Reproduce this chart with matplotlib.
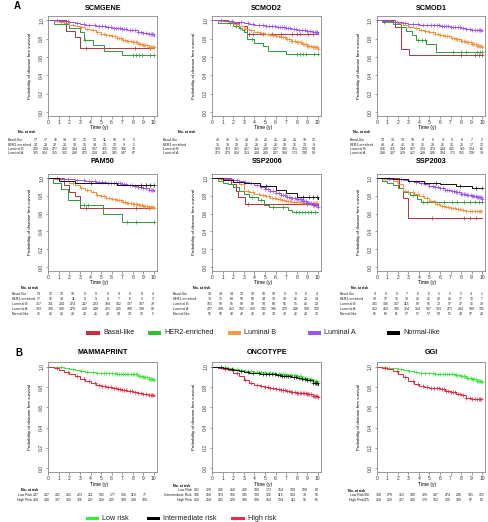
import numpy as np
import matplotlib
matplotlib.use("Agg")
import matplotlib.pyplot as plt
from matplotlib.patches import Rectangle

plt.rcParams['font.family'] = ['Liberation Sans', 'DejaVu Sans']

W, H = 489, 522

# colours
C_BASAL = '#b3323f'
C_HER2 = '#2f9a3a'
C_LUMB = '#f0903c'
C_LUMA = '#9a4ef2'
C_NORM = '#111111'
C_LOW = '#3ee23e'
C_INT = '#111111'
C_HIGH = '#e3263f'
LEG_A = [('Basal-like', '#cf2a40'), ('HER2-enriched', '#2fc02f'), ('Luminal B', '#f39a48'),
         ('Luminal A', '#9b55f0'), ('Normal-like', '#000000')]
LEG_B = [('Low risk', '#33ee33'), ('Intermediate risk', '#000000'), ('High risk', '#ee2a44')]

# ---- data -------------------------------------------------------------
YEARS = [0, 0.5, 1, 1.5, 2, 2.5, 3, 3.5, 4, 4.5, 5, 5.5, 6, 6.5, 7, 7.5, 8, 8.5, 9, 9.5, 10]
TICKS = [0, 1, 2, 3, 4, 5, 6, 7, 8, 9, 10]

CENS_D1 = [1.2, 2.3, 3.1, 3.7, 4.2, 4.6, 5.0, 5.3, 5.5, 5.8, 6.0, 6.3, 6.5, 6.7, 6.9, 7.1,
           7.3, 7.5, 7.6, 7.8, 8.0, 8.1, 8.3, 8.4, 8.6, 8.7, 8.9, 9.0, 9.1, 9.2, 9.4, 9.5,
           9.6, 9.7, 9.8, 9.9, 10.0]
CENS_D2 = [0.8, 1.9, 2.7, 3.4, 3.9, 4.4, 4.8, 5.1, 5.4, 5.7, 5.9, 6.2, 6.4, 6.6, 6.8, 7.0,
           7.2, 7.4, 7.7, 7.9, 8.2, 8.5, 8.8, 9.0, 9.3, 9.5, 9.7, 9.8, 9.9]

# SCMGENE
scmgene_basal = ([0, 1.7, 2.5, 3.0, 10.0], [1, 0.88, 0.82, 0.70, 0.70], [3.6, 8.2, 9.6])
scmgene_her2 = ([0, 0.5, 2.0, 3.0, 3.4, 4.2, 5.3, 7.0, 10.0],
                [1, 0.958, 0.917, 0.875, 0.79, 0.73, 0.667, 0.625, 0.625],
                [3.5, 8.0, 8.3, 8.6, 8.9, 9.6, 10.0])
scmgene_lumb = (YEARS, [1, 0.99, 0.98, 0.97, 0.955, 0.94, 0.925, 0.91, 0.89, 0.87, 0.855,
                        0.845, 0.83, 0.81, 0.79, 0.775, 0.76, 0.745, 0.73, 0.715, 0.71], CENS_D1)
scmgene_luma = (YEARS, [1, 1, 0.995, 0.99, 0.985, 0.975, 0.965, 0.955, 0.945, 0.94, 0.935,
                        0.925, 0.92, 0.915, 0.91, 0.9, 0.89, 0.875, 0.865, 0.85, 0.835], CENS_D2)

# SCMOD2
scmod2_basal = ([0, 1.5, 2.5, 3.3, 10.0], [1, 0.97, 0.94, 0.855, 0.855],
                [3.5, 3.9, 4.8, 5.7, 6.5, 7.6, 8.0, 8.3, 9.1, 9.5])
scmod2_her2 = ([0, 0.5, 2.0, 2.5, 2.8, 3.0, 3.3, 4.0, 4.8, 5.3, 7.0, 10.0],
               [1, 0.97, 0.94, 0.92, 0.89, 0.87, 0.80, 0.75, 0.72, 0.67, 0.63, 0.63],
               [1.7, 2.2, 2.6, 3.8, 8.0, 8.3, 8.6, 8.9, 9.6, 10.0])
scmod2_lumb = (YEARS, [1, 0.995, 0.99, 0.98, 0.965, 0.94, 0.91, 0.89, 0.87, 0.86, 0.855,
                       0.845, 0.835, 0.82, 0.80, 0.78, 0.76, 0.745, 0.725, 0.705, 0.69], CENS_D1)
scmod2_luma = (YEARS, [1, 1, 0.995, 0.99, 0.985, 0.978, 0.97, 0.96, 0.95, 0.945, 0.94,
                       0.935, 0.93, 0.925, 0.92, 0.91, 0.90, 0.89, 0.88, 0.87, 0.855], CENS_D2)

# SCMOD1
scmod1_basal = ([0, 1.7, 2.35, 3.05, 10.0], [1, 0.93, 0.69, 0.625, 0.625], [8.0, 9.3, 9.7, 10.0])
scmod1_her2 = ([0, 0.5, 1.5, 2.3, 2.8, 3.3, 3.75, 4.7, 5.6, 10.0],
               [1, 0.98, 0.96, 0.93, 0.88, 0.84, 0.79, 0.745, 0.655, 0.655],
               [0.7, 3.9, 4.3, 4.6, 7.2, 8.0, 8.5, 9.5, 9.8, 10.0])
scmod1_lumb = (YEARS, [1, 0.995, 0.99, 0.98, 0.97, 0.95, 0.93, 0.915, 0.90, 0.885, 0.87,
                       0.855, 0.84, 0.825, 0.81, 0.795, 0.78, 0.76, 0.74, 0.72, 0.705], CENS_D1)
scmod1_luma = (YEARS, [1, 0.995, 0.99, 0.985, 0.98, 0.97, 0.965, 0.96, 0.955, 0.952, 0.95,
                       0.945, 0.94, 0.935, 0.93, 0.925, 0.92, 0.91, 0.90, 0.89, 0.88], CENS_D2)

# PAM50
pam50_basal = ([0, 1.5, 2.0, 2.5, 3.0, 10.0], [1, 0.923, 0.846, 0.80, 0.66, 0.66], [3.6, 8.3, 9.5])
pam50_her2 = ([0, 0.4, 1.2, 1.9, 3.0, 5.2, 7.0, 10.0],
              [1, 0.94, 0.88, 0.75, 0.695, 0.60, 0.51, 0.51], [3.4, 3.8, 7.5, 8.3, 10.0])
pam50_lumb = (YEARS, [1, 0.995, 0.985, 0.97, 0.95, 0.92, 0.89, 0.865, 0.84, 0.815, 0.795,
                      0.78, 0.765, 0.75, 0.735, 0.72, 0.71, 0.70, 0.685, 0.67, 0.66], CENS_D1)
pam50_luma = (YEARS, [1, 1, 0.995, 0.99, 0.985, 0.98, 0.975, 0.97, 0.965, 0.96, 0.955,
                      0.95, 0.945, 0.94, 0.935, 0.925, 0.915, 0.90, 0.885, 0.87, 0.855], CENS_D2)
pam50_norm = ([0, 1.0, 2.5, 6.5, 10.0], [1, 0.97, 0.94, 0.92, 0.92], [4.0, 8.8, 9.3, 9.6, 10.0])

# SSP2006
ssp06_basal = ([0, 1.8, 2.2, 2.4, 3.1, 10.0], [1, 0.929, 0.857, 0.786, 0.714, 0.714], [3.4, 9.0, 9.6])
ssp06_her2 = ([0, 0.5, 1.0, 1.5, 2.0, 2.5, 3.0, 3.5, 4.3, 4.9, 5.4, 7.2, 7.6, 10.0],
              [1, 0.97, 0.95, 0.93, 0.90, 0.86, 0.82, 0.79, 0.75, 0.70, 0.67, 0.645, 0.62, 0.62],
              [3.8, 4.6, 5.8, 6.7, 7.9, 8.2, 8.5, 8.8, 9.1, 9.4, 9.7])
ssp06_lumb = (YEARS, [1, 0.995, 0.985, 0.975, 0.955, 0.93, 0.86, 0.84, 0.825, 0.815, 0.80,
                      0.78, 0.765, 0.75, 0.74, 0.735, 0.73, 0.725, 0.725, 0.72, 0.72], CENS_D2)
ssp06_luma = (YEARS, [1, 1, 0.995, 0.99, 0.98, 0.97, 0.955, 0.94, 0.92, 0.90, 0.88,
                      0.85, 0.83, 0.81, 0.79, 0.775, 0.76, 0.74, 0.72, 0.70, 0.68], CENS_D1)
ssp06_norm = ([0, 1.0, 2.0, 3.0, 4.5, 6.0, 7.0, 8.0, 10.0],
              [1, 0.98, 0.96, 0.94, 0.91, 0.87, 0.83, 0.79, 0.77], [5.1, 8.6, 9.2, 9.5, 9.9])

# SSP2003
ssp03_basal = ([0, 2.1, 2.5, 3.0, 10.0], [1, 0.889, 0.778, 0.556, 0.556], [5.2, 8.3, 8.8, 9.4])
ssp03_her2 = ([0, 0.5, 1.0, 1.5, 2.0, 2.5, 3.2, 3.8, 4.2, 10.0],
              [1, 0.97, 0.95, 0.92, 0.89, 0.845, 0.81, 0.77, 0.73, 0.73],
              [3.0, 3.4, 4.4, 4.8, 5.5, 6.4, 7.1, 7.6, 8.3, 8.8, 9.3, 9.7, 10.0])
ssp03_lumb = (YEARS, [1, 0.995, 0.985, 0.965, 0.93, 0.86, 0.84, 0.82, 0.80, 0.78, 0.74,
                      0.71, 0.69, 0.675, 0.66, 0.65, 0.64, 0.63, 0.63, 0.63, 0.63], CENS_D2)
ssp03_luma = (YEARS, [1, 1, 0.995, 0.99, 0.985, 0.975, 0.965, 0.955, 0.945, 0.93, 0.915,
                      0.90, 0.885, 0.87, 0.855, 0.84, 0.825, 0.81, 0.80, 0.785, 0.77], CENS_D1)
ssp03_norm = ([0, 1.5, 3.0, 4.5, 6.0, 7.5, 9.0, 10.0],
              [1, 0.985, 0.97, 0.95, 0.93, 0.91, 0.89, 0.89], [5.6, 7.9, 9.4, 10.0])

# MAMMAPRINT
mamma_low = (YEARS, [1, 1, 0.995, 0.99, 0.98, 0.97, 0.96, 0.95, 0.945, 0.942, 0.94,
                     0.938, 0.935, 0.932, 0.93, 0.928, 0.925, 0.91, 0.90, 0.885, 0.87], CENS_D1)
mamma_high = (YEARS, [1, 0.99, 0.97, 0.95, 0.93, 0.905, 0.88, 0.86, 0.84, 0.825, 0.81,
                      0.80, 0.79, 0.78, 0.77, 0.762, 0.755, 0.745, 0.73, 0.72, 0.71], CENS_D2)
# ONCOTYPE
onco_low = (YEARS, [1, 1, 0.995, 0.99, 0.98, 0.97, 0.96, 0.955, 0.95, 0.945, 0.94,
                    0.935, 0.93, 0.925, 0.92, 0.915, 0.91, 0.895, 0.88, 0.86, 0.84], CENS_D1)
onco_int = (YEARS, [1, 0.995, 0.99, 0.98, 0.97, 0.96, 0.95, 0.94, 0.935, 0.932, 0.93,
                    0.925, 0.92, 0.912, 0.905, 0.898, 0.89, 0.88, 0.87, 0.845, 0.82], CENS_D2)
onco_high = (YEARS, [1, 0.99, 0.98, 0.965, 0.94, 0.905, 0.87, 0.845, 0.825, 0.81, 0.80,
                     0.79, 0.78, 0.77, 0.76, 0.752, 0.745, 0.738, 0.73, 0.715, 0.70], CENS_D1)
# GGI
ggi_low = (YEARS, [1, 0.998, 0.99, 0.985, 0.975, 0.965, 0.955, 0.945, 0.94, 0.937, 0.935,
                   0.932, 0.93, 0.928, 0.925, 0.918, 0.91, 0.895, 0.88, 0.865, 0.85], CENS_D1)
ggi_high = (YEARS, [1, 0.99, 0.98, 0.955, 0.93, 0.90, 0.86, 0.83, 0.81, 0.80, 0.795,
                    0.79, 0.78, 0.765, 0.75, 0.735, 0.72, 0.695, 0.685, 0.68, 0.68], CENS_D2)

# numbers at risk
SUB4 = ['Basal-like', 'HER2-enriched', 'Luminal B', 'Luminal A']
SUB5 = SUB4 + ['Normal-like']
RISK2 = ['Low Risk', 'High Risk']
RISK3 = ['Low Risk', 'Intermediate Risk', 'High Risk']

scmgene_n = [[17, 17, 16, 14, 12, 12, 12, 11, 10, 8, 5],
             [24, 23, 22, 20, 18, 15, 14, 13, 12, 9, 5],
             [299, 294, 277, 256, 234, 211, 187, 165, 135, 106, 76],
             [325, 324, 315, 302, 288, 272, 258, 215, 185, 147, 87]]
scmod2_n = [[32, 32, 31, 28, 25, 25, 25, 23, 21, 19, 12],
            [31, 30, 29, 26, 23, 22, 20, 18, 16, 13, 8],
            [329, 323, 307, 287, 264, 238, 207, 182, 151, 120, 84],
            [273, 273, 264, 253, 244, 230, 207, 184, 173, 130, 90]]
scmod1_n = [[13, 13, 13, 10, 9, 9, 9, 9, 8, 7, 2],
            [48, 46, 45, 38, 36, 29, 26, 25, 21, 17, 12],
            [366, 361, 344, 327, 303, 274, 234, 205, 161, 124, 86],
            [238, 237, 229, 217, 208, 200, 184, 171, 155, 128, 79]]
pam50_n = [[13, 12, 13, 10, 9, 9, 9, 9, 9, 8, 4],
           [17, 16, 14, 11, 9, 9, 8, 7, 6, 5, 3],
           [317, 311, 294, 274, 247, 223, 194, 162, 137, 107, 79],
           [333, 330, 306, 279, 260, 248, 221, 205, 180, 138, 90],
           [36, 26, 26, 23, 20, 21, 20, 18, 13, 12, 5]]
ssp06_n = [[14, 14, 14, 12, 10, 10, 10, 9, 9, 6, 4],
           [73, 71, 64, 58, 50, 44, 38, 33, 26, 20, 14],
           [101, 99, 95, 89, 82, 74, 64, 56, 51, 46, 29],
           [427, 420, 413, 392, 369, 342, 306, 279, 236, 180, 135],
           [55, 50, 48, 42, 41, 40, 34, 32, 26, 23, 12]]
ssp03_n = [[9, 9, 9, 7, 6, 6, 5, 5, 5, 4, 1],
           [38, 37, 35, 30, 26, 25, 22, 21, 17, 12, 7],
           [141, 136, 127, 115, 99, 85, 72, 57, 47, 36, 32],
           [412, 410, 399, 384, 364, 337, 303, 271, 234, 180, 135],
           [65, 65, 61, 57, 57, 57, 53, 51, 44, 37, 23]]
mamma_n = [[247, 247, 241, 231, 223, 211, 193, 177, 156, 118, 77],
           [418, 408, 387, 359, 326, 297, 256, 225, 189, 149, 100]]
onco_n = [[231, 229, 226, 218, 206, 189, 173, 154, 130, 100, 63],
          [166, 168, 163, 156, 145, 139, 126, 115, 104, 79, 55],
          [260, 258, 241, 220, 196, 180, 154, 134, 111, 90, 65]]
ggi_n = [[390, 388, 379, 363, 349, 329, 297, 274, 236, 181, 125],
         [275, 268, 250, 227, 200, 178, 152, 129, 109, 87, 63]]

# ---- drawing ----------------------------------------------------------
fig = plt.figure(figsize=(W / 100, H / 100), dpi=100)
PX_YR = 10.55
XMAX = 10.3


def fx(px):
    return px / W


def fy(py):
    return 1 - py / H


def make_panel(x0, top, bottom, title, title_y, curves):
    ax = fig.add_axes([fx(x0), fy(bottom), XMAX * PX_YR / W, (bottom - top) / H])
    for (t, s, cens), col in curves:
        t = np.asarray(t, float)
        s = np.asarray(s, float)
        ax.step(t, s, where='post', color=col, lw=0.7)
        c = np.asarray(cens, float)
        idx = np.searchsorted(t, c, side='right') - 1
        ax.plot(c, s[idx], ls='none', marker='+', ms=2.5, mew=0.5, color=col)
    ax.set_xlim(0, XMAX)
    ax.set_ylim(-0.04, 1.045)
    ax.set_xticks(TICKS)
    ax.set_yticks([0, 0.2, 0.4, 0.6, 0.8, 1.0])
    ax.set_yticklabels(['0.0', '0.2', '0.4', '0.6', '0.8', '1.0'], rotation=90, va='center')
    ax.tick_params(labelsize=3.6, length=1.8, width=0.4, pad=1.2, color='#555555',
                   labelcolor='#333333')
    for sp in ax.spines.values():
        sp.set_color('#888888')
        sp.set_linewidth(0.6)
    cx = x0 + XMAX * PX_YR / 2
    fig.text(fx(cx), fy(title_y), title, ha='center', va='center', fontsize=5.2,
             fontweight='bold')
    fig.text(fx(cx - 4), fy(bottom + 12), 'Time (y)', ha='center', va='center', fontsize=3.6)
    fig.text(fx(x0 - 18), fy((top + bottom) / 2), 'Probability of disease free survival',
             rotation=90, ha='center', va='center', fontsize=3.2)
    return ax


def risk_table(head_x, head_y, lab_x, lab_ha, num_x0, num_x1, row_ys, labels, counts):
    fs = 2.5
    fig.text(fx(head_x), fy(head_y), 'No. at risk', ha='center', va='center', fontsize=fs,
             fontweight='bold')
    xs = np.linspace(num_x0, num_x1, len(counts[0]))
    for y, lab, row in zip(row_ys, labels, counts):
        fig.text(fx(lab_x), fy(y), lab, ha=lab_ha, va='center', fontsize=fs, color='#222222')
        for x, n in zip(xs, row):
            fig.text(fx(x), fy(y), str(n), ha='center', va='center', fontsize=fs,
                     color='#222222')


COLS = [48.3, 212.3, 376.7]

# row 1
R1 = (16.3, 115.7)
make_panel(COLS[0], *R1, 'SCMGENE', 8.3,
           [(scmgene_basal, C_BASAL), (scmgene_her2, C_HER2), (scmgene_lumb, C_LUMB),
            (scmgene_luma, C_LUMA)])
make_panel(COLS[1], *R1, 'SCMOD2', 8.3,
           [(scmod2_basal, C_BASAL), (scmod2_her2, C_HER2), (scmod2_lumb, C_LUMB),
            (scmod2_luma, C_LUMA)])
make_panel(COLS[2], *R1, 'SCMOD1', 8.3,
           [(scmod1_basal, C_BASAL), (scmod1_her2, C_HER2), (scmod1_lumb, C_LUMB),
            (scmod1_luma, C_LUMA)])
rows1 = [140, 144.6, 149, 153.4]
risk_table(27, 132, 8, 'left', 35.5, 134, rows1, SUB4, scmgene_n)
risk_table(187, 132, 163, 'left', 218, 314, rows1, SUB4, scmod2_n)
risk_table(362, 132, 350, 'left', 383, 482, rows1, SUB4, scmod1_n)

# row 2
R2 = (174.1, 270.6)
make_panel(COLS[0], *R2, 'PAM50', 161.7,
           [(pam50_basal, C_BASAL), (pam50_her2, C_HER2), (pam50_lumb, C_LUMB),
            (pam50_luma, C_LUMA), (pam50_norm, C_NORM)])
make_panel(COLS[1], *R2, 'SSP2006', 161.7,
           [(ssp06_basal, C_BASAL), (ssp06_her2, C_HER2), (ssp06_lumb, C_LUMB),
            (ssp06_luma, C_LUMA), (ssp06_norm, C_NORM)])
make_panel(COLS[2], *R2, 'SSP2003', 161.7,
           [(ssp03_basal, C_BASAL), (ssp03_her2, C_HER2), (ssp03_lumb, C_LUMB),
            (ssp03_luma, C_LUMA), (ssp03_norm, C_NORM)])
rows2 = [293.8, 298.8, 303.8, 308.8, 313.8]
risk_table(30, 288.3, 12, 'left', 39, 153, rows2, SUB5, pam50_n)
risk_table(202, 288.3, 173, 'left', 210, 317, rows2, SUB5, ssp06_n)
risk_table(360, 288.3, 340, 'left', 375, 482, rows2, SUB5, ssp03_n)

# row 3
R3 = (362.3, 472.3)
make_panel(COLS[0], *R3, 'MAMMAPRINT', 353, [(mamma_low, C_LOW), (mamma_high, C_HIGH)])
make_panel(COLS[1], *R3, 'ONCOTYPE', 353,
           [(onco_low, C_LOW), (onco_high, C_HIGH), (onco_int, C_INT)])
make_panel(COLS[2], *R3, 'GGI', 353, [(ggi_low, C_LOW), (ggi_high, C_HIGH)])
risk_table(30, 490, 32, 'right', 36, 145, [494.5, 500], RISK2, mamma_n)
risk_table(182, 485.7, 192, 'right', 197, 317, [490.2, 495.2, 500.2], RISK3, onco_n)
risk_table(357, 490.7, 364, 'right', 367, 482, [495, 500], RISK2, ggi_n)

# panel letters
fig.text(fx(17), fy(6), 'A', ha='center', va='center', fontsize=7, fontweight='bold')
fig.text(fx(19), fy(353), 'B', ha='center', va='center', fontsize=7, fontweight='bold')


def legend_row(items, xs, y):
    for (lab, col), x in zip(items, xs):
        fig.patches.append(Rectangle((fx(x), fy(y + 1.7)), 13.5 / W, 3.4 / H,
                                     transform=fig.transFigure, color=col, lw=0))
        fig.text(fx(x + 16.5), fy(y), lab, ha='left', va='center', fontsize=5.2,
                 color='#222222')


legend_row(LEG_A, [86.5, 147.5, 228, 308, 387], 332.8)
legend_row(LEG_B, [86, 146.5, 231.5], 518.3)

fig.savefig('out.png', dpi=100)
